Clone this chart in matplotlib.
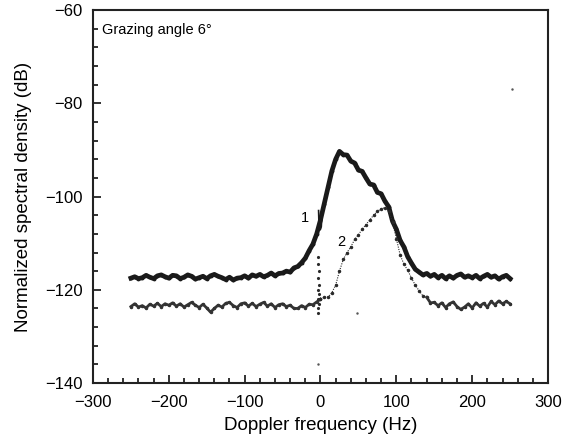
import numpy as np
import matplotlib
matplotlib.use("Agg")
import matplotlib.pyplot as plt
from matplotlib.ticker import MultipleLocator

plt.rcParams['font.family'] = ['Liberation Sans', 'DejaVu Sans']

freq = list(range(-250, 255, 5))

curve1 = [-117.5, -117.2, -117.6, -117.4, -116.9, -117.3, -117.6, -117.0, -116.8, -117.2,
          -117.5, -116.9, -117.0, -117.6, -117.3, -116.8, -117.1, -117.7, -117.4, -117.1,
          -117.6, -117.0, -116.7, -117.1, -117.4, -117.8, -117.3, -117.9, -117.5, -117.4,
          -117.0, -117.5, -116.8, -117.1, -116.7, -117.2, -116.9, -116.4, -117.0, -116.5,
          -116.4, -116.0, -116.2, -115.3, -115.0, -114.2, -113.2, -111.6, -110.2, -108.0,
          -105.0, -101.5, -98.0, -94.5, -92.0, -90.3, -91.0, -91.1, -92.4, -92.8,
          -94.3, -94.6, -96.0, -97.3, -97.5, -99.1, -99.4, -101.0, -102.2, -105.3,
          -107.0, -109.4, -110.8, -112.9, -114.3, -115.6, -116.2, -116.8, -116.5, -117.1,
          -116.7, -117.4, -116.9, -117.6, -117.0, -117.5, -116.9, -116.6, -117.3, -117.0,
          -117.4, -116.9, -117.6, -117.1, -116.7, -117.3, -117.0, -117.7, -117.2, -116.9,
          -117.6]

curve2 = [-123.6, -123.0, -123.7, -123.4, -123.9, -123.1, -123.5, -122.9, -123.6, -123.0,
          -123.3, -122.8, -123.5, -123.0, -123.7, -123.2, -122.7, -123.3, -123.8, -123.1,
          -123.9, -124.8, -124.0, -123.3, -123.7, -122.9, -122.7, -123.4, -123.8, -123.0,
          -122.8, -123.5, -122.9, -123.6, -123.1, -122.7, -123.5, -123.0, -123.8, -123.2,
          -123.0, -123.6, -123.3, -124.0, -124.0, -123.4, -123.8, -123.1, -123.2, -122.6,
          -122.0, -121.6, -121.6, -120.6, -119.0, -116.0, -113.5, -112.0, -110.8, -109.2,
          -108.2, -107.0, -106.0, -105.0, -104.0, -103.2, -102.6, -102.4, -103.0, -105.5,
          -109.0, -112.5, -114.5, -115.8, -117.5, -119.0, -120.2, -121.3, -121.6, -122.8,
          -122.7, -123.4, -122.8, -123.8, -123.0, -122.6, -123.6, -124.2, -123.7, -123.0,
          -123.9, -122.8, -123.5, -122.9, -123.7, -122.5, -123.2, -122.4, -123.0, -122.5,
          -123.0]

# "U" glitch on curve 1 near 0 Hz
spike1_x = [-2.5, -2.0, -1.0, 0.0, 1.0, 2.0, 2.5]
spike1_y = [-103.0, -106.0, -107.2, -107.0, -106.5, -104.0, -102.8]

# dotted spike of curve 2 near 0 Hz
spike2_x = [-3, -3, -2, -3, -2, -3, -2, -3, -2, -3, -3]
spike2_y = [-125.0, -124.0, -123.0, -122.0, -121.0, -120.0, -119.0, -117.5, -116.0, -114.5, -113.0]

# stray dots
stray_x = [-3, 48, 252]
stray_y = [-136.0, -125.0, -77.0]

fig = plt.figure(figsize=(5.68, 4.41), dpi=100)
ax = fig.add_axes([0.1637, 0.1315, 0.8011, 0.8455])

ax.plot(freq, curve1, color='#1a1a1a', lw=3.4, marker='.', ms=3.5)
ax.plot(spike1_x, spike1_y, color='#1a1a1a', lw=1.2)
ax.plot(freq[:51], curve2[:51], color='#333333', lw=2.0, marker='.', ms=3)
ax.plot(freq[50:], curve2[50:], color='#2a2a2a', lw=0.8, ls=(0, (1, 1.2)), marker='.', ms=3)
ax.plot(freq[78:], curve2[78:], color='#333333', lw=2.0)
ax.plot(spike2_x, spike2_y, color='#2a2a2a', ls='none', marker='.', ms=2.5)
ax.plot(stray_x, stray_y, color='#555555', ls='none', marker='.', ms=1.5)

ax.text(-21, -104.7, '1', fontsize=10.5, ha='center', va='center')
ax.text(28, -109.8, '2', fontsize=10.5, ha='center', va='center')
ax.text(-288, -64.3, 'Grazing angle 6°', fontsize=10.5, ha='left', va='center')

ax.set_xlim(-300, 300)
ax.set_ylim(-140, -60)
ax.xaxis.set_major_locator(MultipleLocator(100))
ax.xaxis.set_minor_locator(MultipleLocator(20))
ax.yaxis.set_major_locator(MultipleLocator(20))
ax.yaxis.set_minor_locator(MultipleLocator(4))
ax.tick_params(axis='both', which='both', direction='in', top=False, right=False,
               labelsize=12, width=1.3, color='#222222')
ax.tick_params(axis='x', which='major', pad=8.5)
ax.tick_params(axis='y', which='major', pad=7.5)
ax.tick_params(which='major', length=6)
ax.tick_params(which='minor', length=3.5)
for s in ax.spines.values():
    s.set_linewidth(1.5)
    s.set_color('#222222')

ax.set_xlabel('Doppler frequency (Hz)', fontsize=13.5, labelpad=5)
ax.set_ylabel('Normalized spectral density (dB)', fontsize=13.5, labelpad=9)

fig.savefig('out.png', dpi=100)
